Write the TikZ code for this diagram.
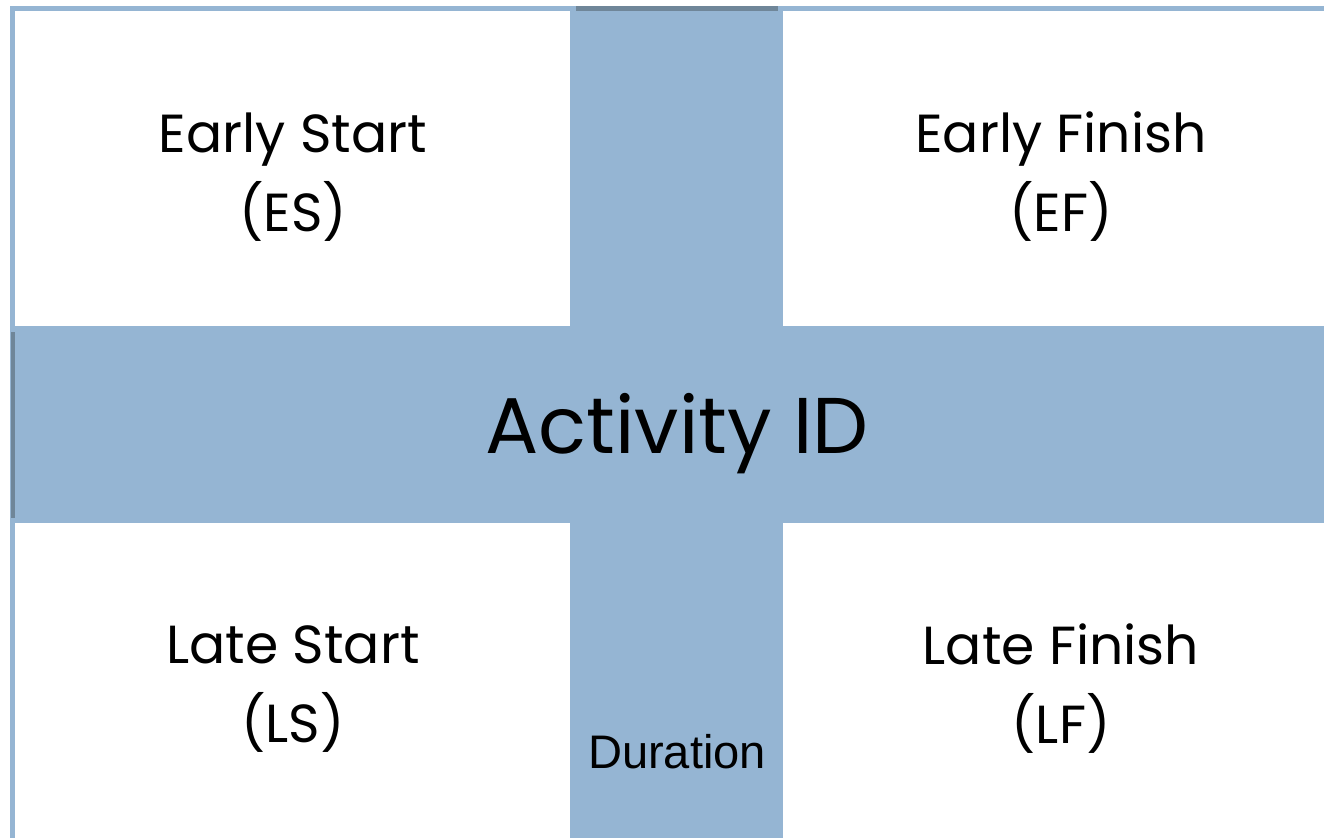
\documentclass[tikz,border=0pt]{standalone}
\usepackage{fontspec}
\setmainfont{Poppins}
\newfontfamily\durfont{Liberation Sans}
\usetikzlibrary{positioning}
\definecolor{cellblue}{HTML}{95B5D3}
\definecolor{edgegray}{HTML}{6F8699}

\begin{document}
\begin{tikzpicture}[x=0.02cm,y=-0.02cm]
	\tikzset{
		corner/.style={align=center,font=\fontsize{30.5}{45}\selectfont},
		title/.style={font=\fontsize{45}{52}\selectfont}
	}
	\useasboundingbox (0,0) rectangle (1324,838);
	\fill[white] (0,0) rectangle (1324,838);
	
	% blue cross and frame
	\fill[cellblue] (10,6) rectangle (1324,11);
	\fill[cellblue] (10,6) rectangle (15,838);
	\fill[cellblue] (570,6) rectangle (783,838);
	\fill[cellblue] (10,326) rectangle (1324,523);
	\fill[edgegray] (576,6) rectangle (778,11);
	\fill[edgegray] (11,332) rectangle (15,518);
	
	\node[corner] (es) at (293,177) {Early Start\\(ES)};
	\node[corner] (ef) at (1061,177) {Early Finish\\(EF)};
	\node[corner] (ls) at (293,689) {Late Start\\(LS)};
	\node[corner] (lf) at (1061,689) {Late Finish\\(LF)};
	\node[title] (id) at (677,434) {Activity ID};
	\node[font=\durfont\fontsize{26.8}{30}\selectfont] (dur) at (677,752) {Duration};
	
\end{tikzpicture}
\end{document}
